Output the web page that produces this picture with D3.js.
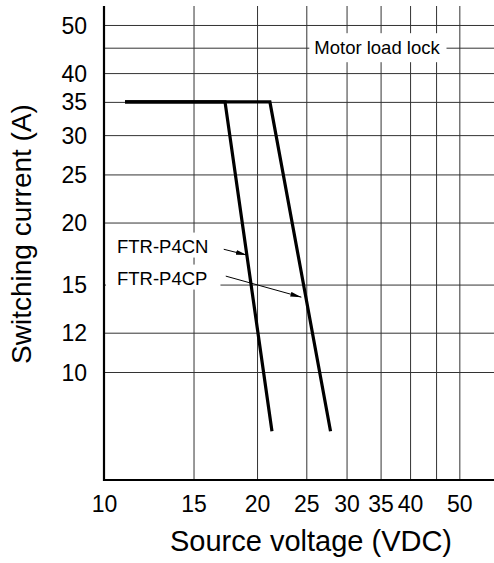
<!DOCTYPE html>
<html>
<head>
<meta charset="utf-8">
<script src="https://cdn.jsdelivr.net/npm/d3@7"></script>
<style>
  body { margin: 0; background: #fff; }
  svg { display: block; font-family: "Liberation Sans", Arial, sans-serif; }
</style>
</head>
<body>
<div id="chart"></div>
<script>
// Values (log-log).
const xTicks = [10, 15, 20, 25, 30, 35, 40, 45, 50];
const xTickLabels = ["10", "15", "20", "25", "30", "35", "40", "", "50"];
const yTicks = [10, 12, 15, 20, 25, 30, 35, 40, 45, 50];
const yTickLabels = ["10", "12", "15", "20", "25", "30", "35", "40", "", "50"];

const p4cnVoltage = [11, 17.3, 21.4];
const p4cnCurrent = [35, 35, 7.6];
const p4cpVoltage = [11, 21.2, 27.9];
const p4cpCurrent = [35, 35, 7.6];

const annoNames = ["FTR-P4CN", "FTR-P4CP"];
const annoLabelCurrent = [17.4, 15];
const annoTailVoltage = [17.2, 17.36];
const annoTailCurrent = [17.67, 15.6];
const annoTipVoltage = [19.1, 24.45];
const annoTipCurrent = [17.2, 14.15];

const motorLabel = "Motor load lock";
const motorCurrent = 45;
const motorVoltage = 25;

// Chart dimensions.
const width = 494;
const height = 563;
const margin = { top: 6, right: 0, bottom: 83, left: 104 };
const plotW = width - margin.left - margin.right;
const plotH = height - margin.top - margin.bottom;

const x = d3.scaleLog().domain([10, 58.5]).range([margin.left, width - margin.right]);
const y = d3.scaleLog().domain([6.06, 54.6]).range([height - margin.bottom, margin.top]);

const svg = d3.create("svg")
    .attr("width", width)
    .attr("height", height)
    .attr("viewBox", [0, 0, width, height]);

// Attach early so getBBox works for the label backgrounds.
document.getElementById("chart").appendChild(svg.node());

svg.append("defs").append("marker")
    .attr("id", "arrow")
    .attr("markerUnits", "userSpaceOnUse")
    .attr("viewBox", "0 -3 11 6")
    .attr("refX", 11)
    .attr("refY", 0)
    .attr("markerWidth", 11)
    .attr("markerHeight", 6)
    .attr("orient", "auto")
    .append("path")
    .attr("d", "M0,-2.4L11,0L0,2.4Z")
    .attr("fill", "#000");

// Grid + tick labels via axes.
const xAxis = svg.append("g")
    .attr("transform", `translate(0,${height - margin.bottom})`)
    .call(d3.axisBottom(x)
        .tickValues(xTicks)
        .tickSize(-plotH)
        .tickPadding(16)
        .tickFormat((d, i) => xTickLabels[i]));

const yAxis = svg.append("g")
    .attr("transform", `translate(${margin.left},0)`)
    .call(d3.axisLeft(y)
        .tickValues(yTicks)
        .tickSize(-plotW)
        .tickPadding(17)
        .tickFormat((d, i) => yTickLabels[i]));

[xAxis, yAxis].forEach(g => {
    g.select(".domain").remove();
    g.selectAll(".tick line").attr("stroke", "#333").attr("stroke-width", 1);
    g.selectAll(".tick text")
        .attr("fill", "#000")
        .style("font-size", "23px")
        .style("font-family", "'Liberation Sans', Arial, sans-serif");
});
yAxis.selectAll(".tick text").attr("dy", "0.35em");

// Label backgrounds and labels.
const annoG = svg.append("g");

function addLabel(tx, ty, text, pad) {
    const t = annoG.append("text")
        .attr("x", tx)
        .attr("y", ty)
        .attr("font-size", 18.5)
        .attr("fill", "#000")
        .text(text);
    const b = t.node().getBBox();
    annoG.insert("rect", "text")
        .attr("x", b.x - pad[0])
        .attr("y", b.y - pad[1])
        .attr("width", b.width + pad[0] + pad[2])
        .attr("height", b.height + pad[1] + pad[3])
        .attr("fill", "#fff");
    return b;
}

addLabel(x(motorVoltage) + 8, y(motorCurrent) + 6.5, motorLabel, [5, 4, 6, 4]);

annoNames.forEach((name, i) =>
    addLabel(margin.left + 13, y(annoLabelCurrent[i]), name, [11, 3, 13, 1]));

// Axis lines.
svg.append("line")
    .attr("x1", margin.left).attr("x2", margin.left)
    .attr("y1", margin.top).attr("y2", height - margin.bottom + 1)
    .attr("stroke", "#000").attr("stroke-width", 2.2);
svg.append("line")
    .attr("x1", margin.left - 1).attr("x2", width)
    .attr("y1", height - margin.bottom).attr("y2", height - margin.bottom)
    .attr("stroke", "#000").attr("stroke-width", 2.2);

// Curves.
const line = d3.line().x(d => x(d[0])).y(d => y(d[1]));
[[p4cnVoltage, p4cnCurrent], [p4cpVoltage, p4cpCurrent]].forEach(([vs, cs]) => {
    svg.append("path")
        .datum(d3.zip(vs, cs))
        .attr("fill", "none")
        .attr("stroke", "#000")
        .attr("stroke-width", 3.2)
        .attr("stroke-linejoin", "miter")
        .attr("d", line);
});

// Arrows.
annoNames.forEach((name, i) => {
    svg.append("line")
        .attr("x1", x(annoTailVoltage[i]))
        .attr("y1", y(annoTailCurrent[i]))
        .attr("x2", x(annoTipVoltage[i]))
        .attr("y2", y(annoTipCurrent[i]))
        .attr("stroke", "#000")
        .attr("stroke-width", 1)
        .attr("marker-end", "url(#arrow)");
});

// Axis titles.
svg.append("text")
    .attr("x", 311)
    .attr("y", 551)
    .attr("text-anchor", "middle")
    .attr("font-size", 29)
    .text("Source voltage (VDC)");

svg.append("text")
    .attr("transform", `translate(31,234) rotate(-90)`)
    .attr("text-anchor", "middle")
    .attr("font-size", 28)
    .text("Switching current (A)");
</script>
</body>
</html>
